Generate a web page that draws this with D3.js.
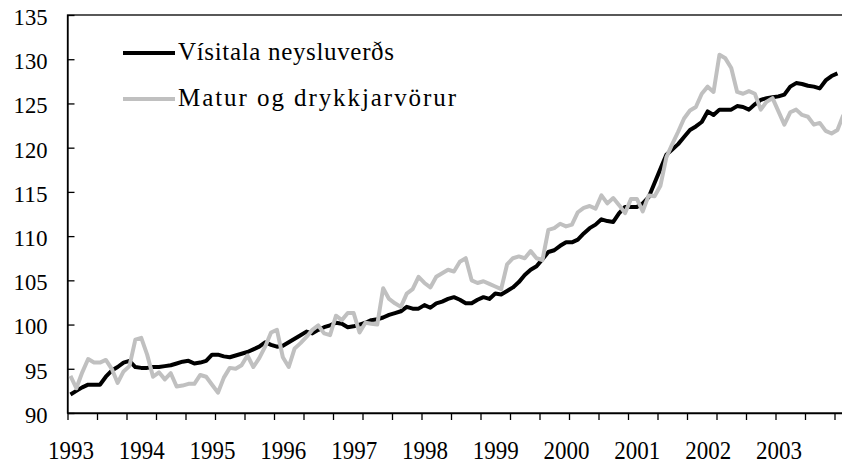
<!DOCTYPE html>
<html>
<head>
<meta charset="utf-8">
<script src="https://cdn.jsdelivr.net/npm/d3@7"></script>
<style>
    body { margin: 0; background: #fff; }
    svg { display: block; font-family: "Liberation Serif", "Times New Roman", serif; }
</style>
</head>
<body>
<main></main>
<script>
// monthly categories, Jan 1993 - Dec 2003
const years = ["1993", "1994", "1995", "1996", "1997", "1998", "1999", "2000", "2001", "2002", "2003"];
const yTicks = [90, 95, 100, 105, 110, 115, 120, 125, 130, 135];

const seriesNames = ["Vísitala neysluverðs", "Matur og drykkjarvörur"];

// Vísitala neysluverðs (last month missing)
const cpi = [
    92.1, 92.5, 92.9, 93.2, 93.2, 93.2, 94.1, 94.8, 95.2, 95.7, 95.9, 95.2,
    95.1, 95.1, 95.2, 95.2, 95.3, 95.4, 95.6, 95.8, 95.9, 95.6, 95.7, 95.9,
    96.6, 96.6, 96.4, 96.3, 96.5, 96.7, 96.9, 97.2, 97.5, 98.0, 97.7, 97.5,
    97.6, 98.0, 98.4, 98.8, 99.2, 99.0, 99.4, 99.7, 99.9, 100.2, 100.1, 99.7,
    99.8, 100.0, 100.2, 100.5, 100.6, 100.8, 101.1, 101.3, 101.5, 102.0, 101.8, 101.8,
    102.2, 101.9, 102.4, 102.6, 102.9, 103.1, 102.8, 102.4, 102.4, 102.8, 103.1, 102.9,
    103.5, 103.4, 103.8, 104.2, 104.8, 105.6, 106.2, 106.6, 107.4, 108.2, 108.4, 108.9,
    109.3, 109.3, 109.6, 110.3, 110.9, 111.3, 111.9, 111.7, 111.6, 112.6, 113.3, 113.3,
    113.3, 113.7, 114.4, 116.0, 117.6, 119.2, 119.8, 120.4, 121.2, 122.0, 122.4, 122.9,
    124.1, 123.7, 124.3, 124.3, 124.3, 124.7, 124.6, 124.3, 124.9, 125.4, 125.6, 125.7,
    125.8, 126.0, 126.9, 127.3, 127.2, 127.0, 126.9, 126.7, 127.6, 128.1, 128.4, null
];

// Matur og drykkjarvörur
const food = [
    94.2, 92.8, 94.6, 96.1, 95.7, 95.7, 96.0, 95.0, 93.4, 94.7, 95.3, 98.3,
    98.5, 96.6, 94.1, 94.6, 93.8, 94.5, 93.0, 93.1, 93.3, 93.3, 94.3, 94.1,
    93.2, 92.3, 94.0, 95.1, 95.0, 95.4, 96.5, 95.2, 96.2, 97.5, 99.1, 99.4,
    96.3, 95.2, 97.3, 97.9, 98.6, 99.4, 99.9, 99.0, 98.8, 101.0, 100.5, 101.3,
    101.3, 99.1, 100.2, 100.1, 100.0, 104.1, 102.9, 102.4, 102.0, 103.5, 104.0, 105.4,
    104.7, 104.2, 105.4, 105.8, 106.2, 106.0, 107.1, 107.5, 105.0, 104.7, 104.9, 104.6,
    104.3, 104.0, 106.8, 107.5, 107.7, 107.5, 108.3, 107.5, 107.3, 110.7, 110.9, 111.4,
    111.1, 111.3, 112.7, 113.2, 113.4, 113.1, 114.6, 113.7, 114.3, 113.5, 112.6, 114.2,
    114.2, 112.8, 114.6, 114.5, 115.7, 118.9, 120.4, 121.8, 123.3, 124.2, 124.6, 126.1,
    126.9, 126.3, 130.5, 130.1, 129.0, 126.3, 126.1, 126.4, 126.1, 124.3, 125.2, 125.6,
    124.1, 122.6, 124.0, 124.3, 123.7, 123.5, 122.6, 122.8, 121.9, 121.6, 122.0, 123.7
];

const width = 842;
const height = 465;
const plotLeft = 67.5;
const plotRight = 846.3;   // plot area runs a little past the window edge
const plotTop = 15;
const plotBottom = 413;
const nMonths = food.length;
const fontFamily = "Liberation Serif, Times New Roman, serif";

const xScale = d3.scaleLinear()
    .domain([0, nMonths])
    .range([plotLeft, plotRight]);

const yScale = d3.scaleLinear()
    .domain([90, 135])
    .range([plotBottom, plotTop]);

const svg = d3.select("main")
    .append("svg")
    .attr("width", width)
    .attr("height", height);

// frame
svg.append("rect")
    .attr("x", plotLeft)
    .attr("y", plotTop)
    .attr("width", plotRight - plotLeft)
    .attr("height", plotBottom - plotTop)
    .attr("fill", "none")
    .attr("stroke", "#000")
    .attr("stroke-width", 1.3);

// y axis, ticks point inwards
const yAxis = d3.axisLeft(yScale)
    .tickValues(yTicks)
    .tickSizeInner(-7)
    .tickSizeOuter(0)
    .tickPadding(20);

svg.append("g")
    .attr("transform", `translate(${plotLeft}, 0)`)
    .call(yAxis)
    .call(g => g.select(".domain").attr("stroke-width", 1.3))
    .call(g => g.selectAll(".tick line").attr("stroke-width", 1.3))
    .call(g => g.selectAll("text")
        .attr("font-size", "23px")
        .attr("font-family", fontFamily)
        .attr("fill", "#000")
        .attr("textLength", d => String(d).length * 11.3)
        .attr("lengthAdjust", "spacingAndGlyphs")
        .attr("y", 2));

// x axis tick marks every 5 months
const xTickAxis = d3.axisBottom(xScale)
    .tickValues(d3.range(0, nMonths, 5))
    .tickFormat("")
    .tickSizeInner(7)
    .tickSizeOuter(0);

svg.append("g")
    .attr("transform", `translate(0, ${plotBottom})`)
    .call(xTickAxis)
    .call(g => g.select(".domain").attr("stroke-width", 1.3))
    .call(g => g.selectAll(".tick line").attr("stroke-width", 1.3));

// year labels under January of each year
const xLabelAxis = d3.axisBottom(xScale)
    .tickValues(years.map((y, i) => i * 12 + 0.5))
    .tickFormat((d, i) => years[i])
    .tickSize(0)
    .tickPadding(28);

svg.append("g")
    .attr("transform", `translate(0, ${plotBottom})`)
    .call(xLabelAxis)
    .call(g => g.select(".domain").remove())
    .call(g => g.selectAll("text")
        .attr("font-size", "25px")
        .attr("font-family", fontFamily)
        .attr("fill", "#000")
        .attr("textLength", 46)
        .attr("lengthAdjust", "spacingAndGlyphs"));

const line = d3.line()
    .defined(d => d != null)
    .x((d, i) => xScale(i + 0.5))
    .y(d => yScale(d));

const plot = svg.append("g");

plot.append("path")
    .datum(cpi)
    .attr("fill", "none")
    .attr("stroke", "#000")
    .attr("stroke-width", 4)
    .attr("stroke-linejoin", "round")
    .attr("d", line);

plot.append("path")
    .datum(food)
    .attr("fill", "none")
    .attr("stroke", "#c0c0c0")
    .attr("stroke-width", 4)
    .attr("stroke-linejoin", "round")
    .attr("d", line);

// legend
const legend = svg.append("g");
const legendColors = ["#000", "#c0c0c0"];
const legendWidths = [216, 278];

seriesNames.forEach((name, i) => {
    const y = 53 + i * 46;
    legend.append("line")
        .attr("x1", 123)
        .attr("x2", 175)
        .attr("y1", y)
        .attr("y2", y)
        .attr("stroke", legendColors[i])
        .attr("stroke-width", 4);
    legend.append("text")
        .attr("x", 178)
        .attr("y", y + 7)
        .attr("font-size", "25px")
        .attr("font-family", fontFamily)
        .attr("textLength", legendWidths[i])
        .attr("lengthAdjust", "spacing")
        .text(name);
});
</script>
</body>
</html>
